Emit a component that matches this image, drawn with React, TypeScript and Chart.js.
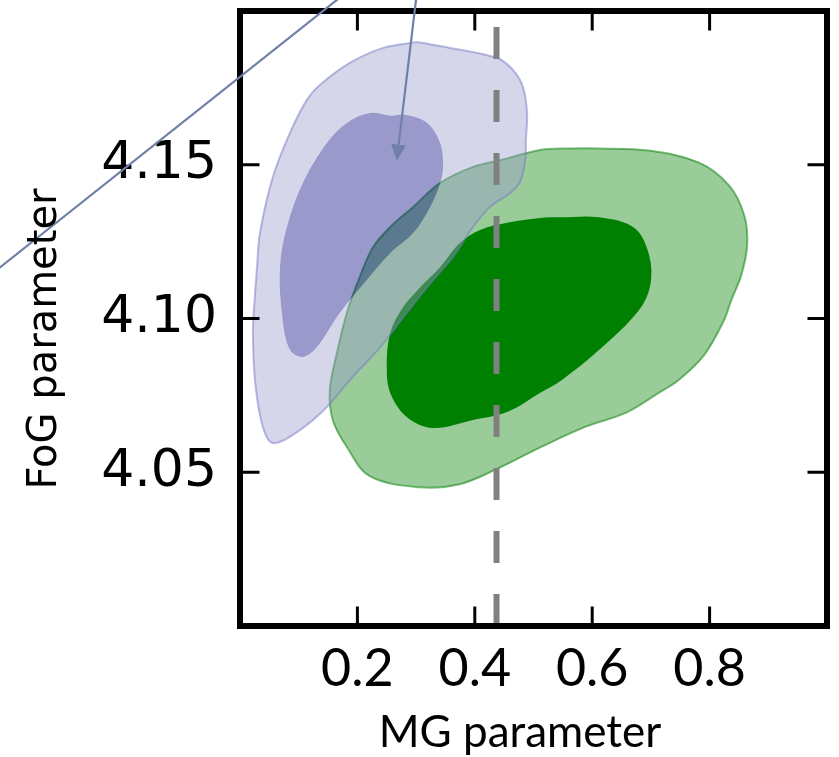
import React, { useEffect, useRef } from "react";
import { Chart, registerables } from "chart.js";

Chart.register(...registerables);

// ---- axes ----
const xLimits = [0, 1];
const yLimits = [4.0, 4.2];
const xTickValues = [0.2, 0.4, 0.6, 0.8];
const xTickLabels = ["0.2", "0.4", "0.6", "0.8"];
const yTickValues = [4.05, 4.1, 4.15];
const yTickLabels = ["4.05", "4.10", "4.15"];
const xAxisTitle = "MG parameter";
const yAxisTitle = "FoG parameter";

// ---- reference value (dashed line) ----
const referenceMG = 0.437;

// ---- contours [MG, FoG] ----
const greenOuter: [number, number][] = [
  [0.544, 4.1553], [0.612, 4.1553], [0.697, 4.1546], [0.782, 4.1507], [0.833, 4.1433],
  [0.859, 4.1336], [0.864, 4.1239], [0.854, 4.1141], [0.837, 4.106], [0.825, 4.0996],
  [0.791, 4.0882], [0.748, 4.0801], [0.714, 4.0759], [0.658, 4.0694], [0.59, 4.0649],
  [0.515, 4.0584], [0.437, 4.051], [0.374, 4.0461], [0.306, 4.0451], [0.221, 4.0487],
  [0.182, 4.0582], [0.158, 4.067], [0.153, 4.0767], [0.165, 4.0888], [0.182, 4.1018],
  [0.204, 4.1135], [0.227, 4.1233], [0.256, 4.1298], [0.295, 4.1363], [0.341, 4.1441],
  [0.397, 4.1493], [0.443, 4.1515], [0.511, 4.1548],
];
const greenInner: [number, number][] = [
  [0.544, 4.1329], [0.612, 4.1329], [0.672, 4.1294], [0.697, 4.1206], [0.699, 4.1109],
  [0.68, 4.1028], [0.612, 4.0898], [0.549, 4.0801], [0.511, 4.0758], [0.455, 4.0696],
  [0.397, 4.067], [0.329, 4.0644], [0.284, 4.068], [0.256, 4.0758], [0.25, 4.0842],
  [0.256, 4.0953], [0.278, 4.1037], [0.307, 4.1102], [0.341, 4.1167], [0.375, 4.1246],
  [0.409, 4.1288], [0.455, 4.1311], [0.511, 4.1327],
];
const blueOuter: [number, number][] = [
  [0.302, 4.1899], [0.358, 4.188], [0.438, 4.1847], [0.465, 4.1808], [0.482, 4.1753],
  [0.489, 4.1668], [0.487, 4.158], [0.486, 4.1515], [0.477, 4.1444], [0.46, 4.1408],
  [0.426, 4.1363], [0.397, 4.1298], [0.363, 4.12], [0.329, 4.1125], [0.284, 4.1018],
  [0.239, 4.0907], [0.187, 4.08], [0.148, 4.0712], [0.102, 4.0637], [0.056, 4.0595],
  [0.039, 4.0647], [0.026, 4.079], [0.022, 4.0953], [0.025, 4.1063], [0.029, 4.1167],
  [0.034, 4.1278], [0.056, 4.146], [0.085, 4.1603], [0.114, 4.1711], [0.136, 4.1759],
  [0.187, 4.1831], [0.244, 4.188],
];
const blueInner: [number, number][] = [
  [0.256, 4.1659], [0.284, 4.1662], [0.319, 4.1636], [0.341, 4.1571], [0.346, 4.1493],
  [0.341, 4.1441], [0.324, 4.1363], [0.295, 4.1278], [0.256, 4.1213], [0.216, 4.1125],
  [0.17, 4.1018], [0.131, 4.0907], [0.107, 4.0875], [0.085, 4.0898], [0.072, 4.1005],
  [0.068, 4.1167], [0.08, 4.1298], [0.107, 4.1441], [0.148, 4.1571], [0.182, 4.1636],
  [0.221, 4.1668],
];

// ---- annotation lines [MG, FoG] ----
const pointerLine: [number, number][] = [[-0.45, 4.1104], [0.2, 4.2089]];
const arrowLine: [number, number][] = [[0.307, 4.215], [0.267, 4.1514]];

// ---- helpers ----
type P = [number, number];
const toPts = (arr: P[]) => arr.map(([x, y]) => ({ x, y }));
const ring = (arr: P[]) => toPts([...arr, arr[0]]);
const band = (outer: P[], inner: P[]) => {
  const innerRev = [inner[0], ...inner.slice(1).reverse(), inner[0]];
  return toPts([...outer, outer[0], outer[0], inner[0], ...innerRev, inner[0], outer[0]]);
};

const annotColor = "rgb(112,128,168)";

const framePlugin = {
  id: "frame",
  afterDatasetsDraw(chart: any) {
    const { ctx, chartArea: a, scales } = chart;
    const xs = scales.x;
    const ys = scales.y;
    const L = 19.5;
    ctx.save();
    ctx.strokeStyle = "#000";
    ctx.lineWidth = 3;
    ctx.beginPath();
    for (const v of xTickValues) {
      const px = xs.getPixelForValue(v);
      ctx.moveTo(px, a.bottom);
      ctx.lineTo(px, a.bottom - L);
      ctx.moveTo(px, a.top);
      ctx.lineTo(px, a.top + L);
    }
    for (const v of yTickValues) {
      const py = ys.getPixelForValue(v);
      ctx.moveTo(a.left, py);
      ctx.lineTo(a.left + L, py);
      ctx.moveTo(a.right, py);
      ctx.lineTo(a.right - L, py);
    }
    ctx.stroke();
    ctx.lineWidth = 6;
    ctx.strokeRect(a.left, a.top, a.right - a.left, a.bottom - a.top);
    ctx.restore();
  },
  afterDraw(chart: any) {
    const { ctx, scales } = chart;
    const xs = scales.x;
    const ys = scales.y;
    const pix = (p: P) => [xs.getPixelForValue(p[0]), ys.getPixelForValue(p[1])];
    ctx.save();
    ctx.strokeStyle = annotColor;
    ctx.fillStyle = annotColor;
    ctx.lineWidth = 2.2;
    // pointer line
    const [p0x, p0y] = pix(pointerLine[0]);
    const [p1x, p1y] = pix(pointerLine[1]);
    ctx.beginPath();
    ctx.moveTo(p0x, p0y);
    ctx.lineTo(p1x, p1y);
    ctx.stroke();
    // arrow
    const [s0x, s0y] = pix(arrowLine[0]);
    const [tx, ty] = pix(arrowLine[1]);
    const dx = tx - s0x;
    const dy = ty - s0y;
    const len = Math.hypot(dx, dy);
    const ux = dx / len;
    const uy = dy / len;
    const hl = 16;
    const hw = 7.5;
    const bx = tx - ux * hl;
    const by = ty - uy * hl;
    ctx.beginPath();
    ctx.moveTo(s0x, s0y);
    ctx.lineTo(bx, by);
    ctx.stroke();
    ctx.beginPath();
    ctx.moveTo(tx, ty);
    ctx.lineTo(bx - uy * hw, by + ux * hw);
    ctx.lineTo(bx + uy * hw, by - ux * hw);
    ctx.closePath();
    ctx.fill();
    // axis titles
    ctx.fillStyle = "#000";
    ctx.font = "44px Lato";
    ctx.textAlign = "center";
    ctx.textBaseline = "alphabetic";
    ctx.fillText(xAxisTitle, 520, 747);
    ctx.translate(56, 339);
    ctx.rotate(-Math.PI / 2);
    ctx.font = "40px 'DejaVu Sans'";
    ctx.fillText(yAxisTitle, 0, 0);
    ctx.restore();
  },
};

export default function App() {
  const ref = useRef<HTMLCanvasElement | null>(null);
  useEffect(() => {
    if (!ref.current) return;
    const common = { pointRadius: 0, pointHoverRadius: 0, tension: 0.35 };
    const chart = new Chart(ref.current, {
      type: "line",
      data: {
        datasets: [
          {
            label: "reference",
            data: toPts([[referenceMG, yLimits[0]], [referenceMG, yLimits[1]]]),
            borderColor: "#808080",
            borderWidth: 6,
            borderDash: [32, 31],
            borderCapStyle: "butt",
            pointRadius: 0,
            fill: false,
            tension: 0,
            order: 0,
          },
          {
            label: "blue outer edge",
            data: ring(blueOuter),
            borderColor: "rgba(120,120,200,0.5)",
            borderWidth: 2,
            fill: false,
            order: 1,
            ...common,
          },
          {
            label: "blue inner",
            data: ring(blueInner),
            borderWidth: 0,
            borderColor: "rgba(0,0,0,0)",
            backgroundColor: "rgba(0,0,128,0.4)",
            fill: "shape",
            order: 2,
            ...common,
          },
          {
            label: "blue outer",
            data: band(blueOuter, blueInner),
            borderWidth: 0,
            borderColor: "rgba(0,0,0,0)",
            backgroundColor: "rgba(153,153,204,0.4)",
            fill: "shape",
            order: 3,
            ...common,
          },
          {
            label: "green outer edge",
            data: ring(greenOuter),
            borderColor: "rgba(0,128,0,0.5)",
            borderWidth: 2,
            fill: false,
            order: 4,
            ...common,
          },
          {
            label: "green inner",
            data: ring(greenInner),
            borderWidth: 0,
            borderColor: "rgba(0,0,0,0)",
            backgroundColor: "rgb(0,128,0)",
            fill: "shape",
            order: 5,
            ...common,
          },
          {
            label: "green outer",
            data: ring(greenOuter),
            borderWidth: 0,
            borderColor: "rgba(0,0,0,0)",
            backgroundColor: "rgba(0,128,0,0.4)",
            fill: "shape",
            order: 6,
            ...common,
          },
        ] as any,
      },
      options: {
        animation: false,
        responsive: false,
        events: [],
        layout: { padding: { top: 11, right: 12, left: 0, bottom: 0 } },
        plugins: { legend: { display: false }, tooltip: { enabled: false } },
        scales: {
          x: {
            type: "linear",
            min: xLimits[0],
            max: xLimits[1],
            afterBuildTicks: (s: any) => {
              s.ticks = xTickValues.map((v) => ({ value: v }));
            },
            afterFit: (s: any) => {
              s.height = 131;
              s.paddingLeft = 0;
              s.paddingRight = 0;
            },
            grid: { display: false, drawTicks: false },
            border: { display: false },
            ticks: {
              autoSkip: false,
              maxRotation: 0,
              padding: 12,
              color: "#000",
              font: { family: "Lato", size: 52 },
              callback: (_v: any, i: number) => xTickLabels[i],
            },
          },
          y: {
            type: "linear",
            min: yLimits[0],
            max: yLimits[1],
            afterBuildTicks: (s: any) => {
              s.ticks = yTickValues.map((v) => ({ value: v }));
            },
            afterFit: (s: any) => {
              s.width = 240;
              s.paddingTop = 0;
              s.paddingBottom = 0;
            },
            grid: { display: false, drawTicks: false },
            border: { display: false },
            ticks: {
              autoSkip: false,
              padding: 23,
              color: "#000",
              font: { family: "DejaVu Sans", size: 52 },
              callback: (_v: any, i: number) => yTickLabels[i],
            },
          },
        },
      } as any,
      plugins: [framePlugin],
    });
    return () => chart.destroy();
  }, []);
  return (
    <div style={{ position: "absolute", left: 0, top: 0, width: 839, height: 757 }}>
      <canvas ref={ref} width={839} height={757} style={{ display: "block" }} />
    </div>
  );
}
